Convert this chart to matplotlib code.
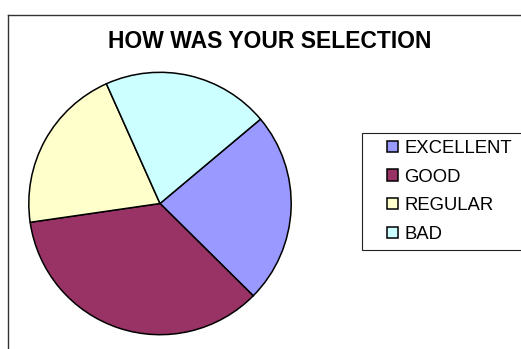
import matplotlib
matplotlib.use("Agg")
import matplotlib.pyplot as plt
from matplotlib.patches import Rectangle
from matplotlib.lines import Line2D

categories = ["EXCELLENT", "GOOD", "REGULAR", "BAD"]
votes = [8, 12, 7, 7]
colors = ["#9999FF", "#993366", "#FFFFCC", "#CCFFFF"]
title = "HOW WAS YOUR SELECTION"

W, H = 521, 349
DPI = 100
plt.rcParams["font.family"] = ["Liberation Sans", "DejaVu Sans"]

fig = plt.figure(figsize=(W / DPI, H / DPI), dpi=DPI)
fig.patch.set_facecolor("white")


def fx(px):
    return px / W


def fy(py):
    return 1 - py / H


# chart area border (left and top edges visible)
fig.add_artist(Line2D([fx(7.5), fx(7.5)], [fy(14.5), fy(H + 5)],
                      transform=fig.transFigure, color="#333333", lw=1.0))
fig.add_artist(Line2D([fx(7.5), fx(W + 5)], [fy(14.5), fy(14.5)],
                      transform=fig.transFigure, color="#333333", lw=1.0))

# pie
cx, cy, r = 160, 203.5, 132.5
ax = fig.add_axes([fx(cx - r), fy(cy + r), (2 * r) / W, (2 * r) / H])
wedges, _ = ax.pie(votes, colors=colors, startangle=40, counterclock=False,
                   radius=1.0,
                   wedgeprops=dict(edgecolor="black", linewidth=1.1))
ax.set_xlim(-1.01, 1.01)
ax.set_ylim(-1.01, 1.01)
ax.axis("off")

fig.text(fx(270), fy(41), title, ha="center", va="center",
         fontsize=16.5, fontweight="bold", color="black")

# legend box, running past the right edge
fig.add_artist(Rectangle((fx(361.5), fy(249.5)), fx(W + 10 - 361.5),
                         (249.5 - 132.5) / H, transform=fig.transFigure,
                         facecolor="white", edgecolor="#222222", lw=0.8))

leg = fig.legend(wedges, categories, loc="upper left",
                 bbox_to_anchor=(fx(387), fy(140)),
                 frameon=False,
                 fontsize=13.3, handlelength=0.58, handleheight=0.58,
                 handletextpad=0.36, labelspacing=0.63, borderpad=0,
                 borderaxespad=0)
for h in leg.legend_handles:
    h.set_edgecolor("black")
    h.set_linewidth(1.1)

fig.savefig("out.png", dpi=DPI, facecolor="white")
